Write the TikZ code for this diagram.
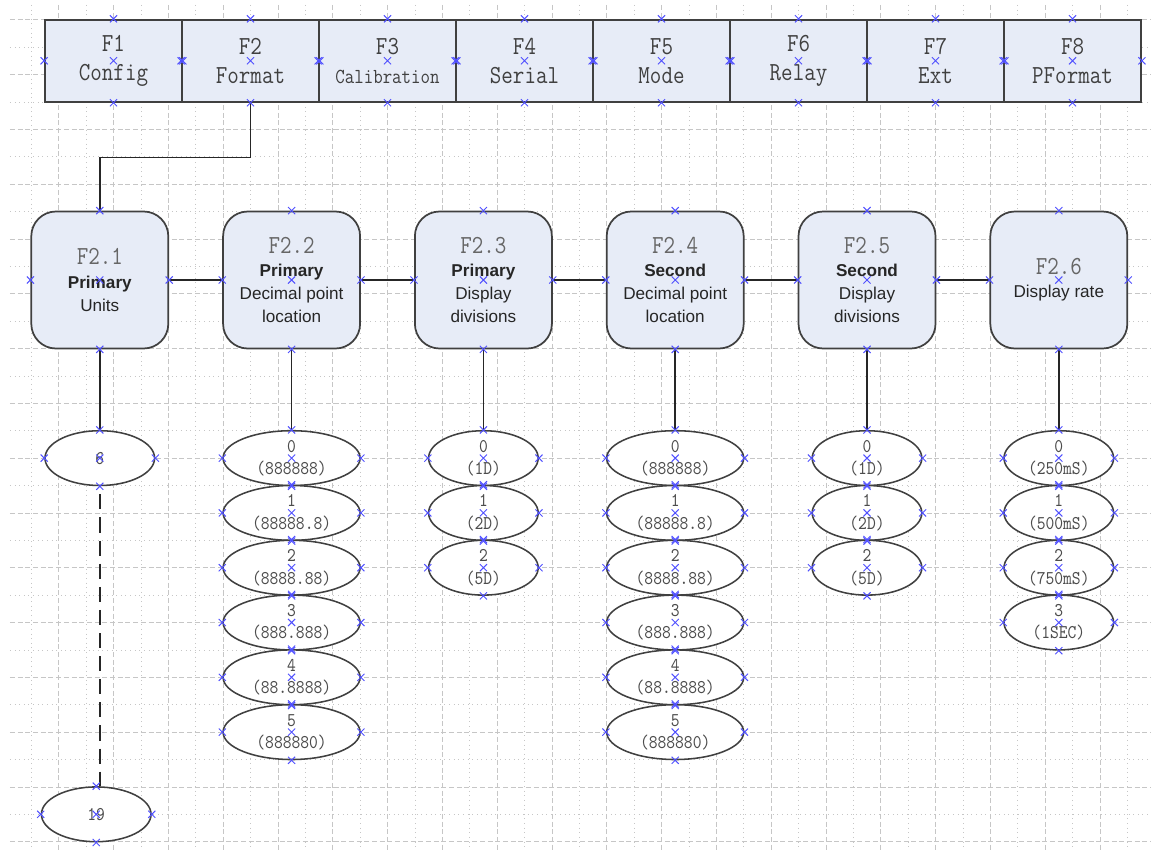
\documentclass[tikz,border=0pt]{standalone}
\usepackage{fontspec}
\setmainfont{Liberation Sans}
\newfontfamily\monofont[FakeStretch=0.86]{Latin Modern Mono}
\usetikzlibrary{shapes.geometric}
\definecolor{boxfill}{RGB}{231,236,247}
\definecolor{boxline}{RGB}{64,64,64}
\definecolor{cptblue}{RGB}{80,80,255}
\definecolor{gridgray}{RGB}{198,198,198}

\begin{document}
\begin{tikzpicture}[x=0.5cm,y=-0.5cm,
	menu/.style={draw=boxline,line width=0.9pt,fill=boxfill,minimum width=2.5cm,minimum height=1.5cm,inner sep=0pt,align=center,text=black!75,font=\monofont\fontsize{13.5}{15}\selectfont},
	param/.style={draw=boxline,line width=0.9pt,fill=boxfill,rounded corners=0.45cm,minimum width=2.5cm,minimum height=2.5cm,inner sep=0pt,align=center,text=black!85,font=\fontsize{8.9}{12}\selectfont},
	opt/.style={draw=boxline,line width=0.8pt,fill=white,shape=ellipse,minimum width=2cm,minimum height=1cm,inner sep=0pt,inner ysep=-3pt,align=center,text=black!70,font=\monofont\fontsize{10.1}{11.6}\selectfont},
	wideopt/.style={opt,minimum width=2.5cm},
	link/.style={draw=black!85,line width=0.8pt},
	cpt/.style={draw=cptblue,line width=0.5pt}]
	\useasboundingbox (-0.142,-0.719) rectangle (41.865,30.303);

	% page grid
	\foreach \i in {1,3,...,41} \draw[gridgray,dotted] (\i,-0.54) -- (\i,30.303);
	\foreach \i in {2,4,...,40} \draw[gridgray,dash pattern=on 2.6pt off 1.4pt] (\i,-0.54) -- (\i,30.303);
	\foreach \j in {1,3,...,29} \draw[gridgray,dotted] (0.22,\j) -- (41.865,\j);
	\foreach \j in {0,2,...,30} \draw[gridgray,dash pattern=on 2.6pt off 1.4pt] (0.22,\j) -- (41.865,\j);

	% menu bar
	\draw (4,1.5) node (f1) [menu] {F1\\Config};
	\draw (9,1.5) node (f2) [menu] {F2\\Format};
	\draw (14,1.5) node (f3) [menu] {F3\\{\fontsize{11.1}{15}\selectfont Calibration}};
	\draw (19,1.5) node (f4) [menu] {F4\\Serial};
	\draw (24,1.5) node (f5) [menu] {F5\\Mode};
	\draw (29,1.5) node (f6) [menu] {F6\\Relay};
	\draw (34,1.5) node (f7) [menu] {F7\\Ext};
	\draw (39,1.5) node (f8) [menu] {F8\\PFormat};

	% format parameters
	\draw (3.5,9.5) node (p1) [param] {{\monofont\fontsize{13.5}{12}\selectfont\color{black!60}F2.1}\\{\bfseries Primary}\\Units};
	\draw (10.5,9.5) node (p2) [param] {{\monofont\fontsize{13.5}{12}\selectfont\color{black!60}F2.2}\\{\bfseries Primary}\\Decimal point\\location};
	\draw (17.5,9.5) node (p3) [param] {{\monofont\fontsize{13.5}{12}\selectfont\color{black!60}F2.3}\\{\bfseries Primary}\\Display\\divisions};
	\draw (24.5,9.5) node (p4) [param] {{\monofont\fontsize{13.5}{12}\selectfont\color{black!60}F2.4}\\{\bfseries Second}\\Decimal point\\location};
	\draw (31.5,9.5) node (p5) [param] {{\monofont\fontsize{13.5}{12}\selectfont\color{black!60}F2.5}\\{\bfseries Second}\\Display\\divisions};
	\draw (38.5,9.5) node (p6) [param] {{\monofont\fontsize{13.5}{12}\selectfont\color{black!60}F2.6}\\Display rate};

	% values
	\draw (3.5,16) node (p1v0) [opt] {6};
	\draw (3.37,29) node (p1v1) [opt] {19};

	\draw (10.5,16) node (p2v0) [wideopt] {0\\(888888)};
	\draw (10.5,18) node (p2v1) [wideopt] {1\\(88888.8)};
	\draw (10.5,20) node (p2v2) [wideopt] {2\\(8888.88)};
	\draw (10.5,22) node (p2v3) [wideopt] {3\\(888.888)};
	\draw (10.5,24) node (p2v4) [wideopt] {4\\(88.8888)};
	\draw (10.5,26) node (p2v5) [wideopt] {5\\(888880)};

	\draw (17.5,16) node (p3v0) [opt] {0\\(1D)};
	\draw (17.5,18) node (p3v1) [opt] {1\\(2D)};
	\draw (17.5,20) node (p3v2) [opt] {2\\(5D)};

	\draw (24.5,16) node (p4v0) [wideopt] {0\\(888888)};
	\draw (24.5,18) node (p4v1) [wideopt] {1\\(88888.8)};
	\draw (24.5,20) node (p4v2) [wideopt] {2\\(8888.88)};
	\draw (24.5,22) node (p4v3) [wideopt] {3\\(888.888)};
	\draw (24.5,24) node (p4v4) [wideopt] {4\\(88.8888)};
	\draw (24.5,26) node (p4v5) [wideopt] {5\\(888880)};

	\draw (31.5,16) node (p5v0) [opt] {0\\(1D)};
	\draw (31.5,18) node (p5v1) [opt] {1\\(2D)};
	\draw (31.5,20) node (p5v2) [opt] {2\\(5D)};

	\draw (38.5,16) node (p6v0) [opt] {0\\(250mS)};
	\draw (38.5,18) node (p6v1) [opt] {1\\(500mS)};
	\draw (38.5,20) node (p6v2) [opt] {2\\(750mS)};
	\draw (38.5,22) node (p6v3) [opt] {3\\(1SEC)};

	% connectors
	\draw[link] (f2.south) -- ++(0,2) -| (p1.north);
	\draw[link] (p1) -- (p2);
	\draw[link] (p2) -- (p3);
	\draw[link] (p3) -- (p4);
	\draw[link] (p4) -- (p5);
	\draw[link] (p5) -- (p6);
	\draw[link] (p1) -- (p1v0);
	\draw[link] (p2) -- (p2v0);
	\draw[link] (p3) -- (p3v0);
	\draw[link] (p4) -- (p4v0);
	\draw[link] (p5) -- (p5v0);
	\draw[link] (p6) -- (p6v0);
	\draw[link,dash pattern=on 7.8pt off 4.2pt,dash phase=7.8pt] (p1v0.south) -- (p1v0.south |- p1v1.north);

	% connection points
	\foreach \n in {f1,f2,f3,f4,f5,f6,f7,f8,p1,p2,p3,p4,p5,p6,p1v0,p1v1}
		\foreach \a in {north,south,east,west,center}
			\draw[cpt] (\n.\a) +(-.13,-.13) -- +(.13,.13) +(-.13,.13) -- +(.13,-.13);
	\foreach \n/\k in {2/5,3/2,4/5,5/2,6/3}
		\foreach \v in {0,...,\k}
			\foreach \a in {north,south,east,west,center}
				\draw[cpt] (p\n v\v.\a) +(-.13,-.13) -- +(.13,.13) +(-.13,.13) -- +(.13,-.13);
\end{tikzpicture}
\end{document}
